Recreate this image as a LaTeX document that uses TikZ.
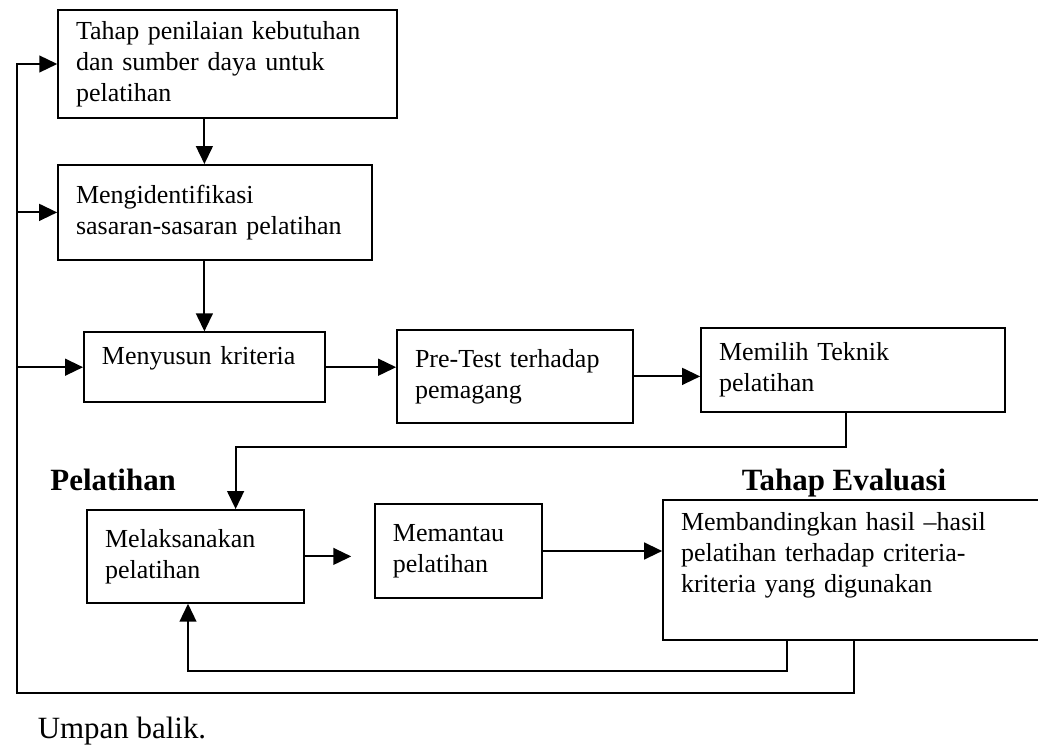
\documentclass[tikz,border=0pt]{standalone}
\usepackage{fontspec}
\setmainfont{Liberation Serif}
\usetikzlibrary{arrows.meta}

\begin{document}
\begin{tikzpicture}[
  stage/.style={draw, line width=1.2pt, align=left, inner xsep=0.45cm, inner ysep=0pt,
    font=\fontsize{18.5}{22}\selectfont},
  link/.style={line width=1.4pt},
  flow/.style={link, -{Triangle[length=0.45cm, width=0.42cm]}},
  heading/.style={anchor=base, font=\fontsize{22}{26}\selectfont\bfseries}
]
  \useasboundingbox (0,0) rectangle (25.95,-18.625);

  \node[stage, text width=7.575cm, minimum height=2.7cm] (assess) at (5.69,-1.6)
    {Tahap penilaian kebutuhan\\ dan sumber daya untuk\\ pelatihan};
  \node[stage, text width=6.95cm, minimum height=2.375cm] (goals) at (5.375,-5.31)
    {Mengidentifikasi\\ sasaran-sasaran pelatihan};
  \node[stage, text width=5.125cm, minimum height=1.75cm] (criteria) at (5.11,-9.18)
    {Menyusun kriteria\vspace{0.45cm}};
  \node[stage, text width=5cm, minimum height=2.325cm] (pretest) at (12.875,-9.41)
    {Pre-Test terhadap\\ pemagang};
  \node[stage, text width=6.7cm, minimum height=2.1cm] (method) at (21.325,-9.25)
    {Memilih Teknik\\ pelatihan};

  \node[heading] (trainlbl) at (2.83,-12.25) {Pelatihan};
  \node[heading] (evallbl) at (21.1,-12.25) {Tahap Evaluasi};

  \node[stage, text width=4.525cm, minimum height=2.325cm] (conduct) at (4.89,-13.91)
    {Melaksanakan\\ pelatihan};
  \node[stage, text width=3.275cm, minimum height=2.35cm] (monitor) at (11.46,-13.775)
    {Memantau\\ pelatihan};
  \node[stage, text width=8.65cm, minimum height=3.5cm] (compare) at (21.35,-14.25)
    {Membandingkan hasil --hasil\\ pelatihan terhadap criteria-\\ kriteria yang digunakan\vspace{0.75cm}};

  \node[anchor=base, font=\fontsize{22}{26}\selectfont] (fblbl) at (3.05,-18.45) {Umpan balik.};

  \draw[flow] (assess.south -| criteria) -- (goals.north -| criteria);
  \draw[flow] (goals.south -| criteria) -- (criteria.north);
  \draw[flow] (criteria.east) -- (criteria.east -| pretest.west);
  \draw[flow] (pretest.east) -- (pretest.east -| method.west);
  \draw[flow] ([xshift=-0.18cm]method.south) -- ++(0,-0.85) -| ([xshift=1cm]conduct.north);
  \draw[flow, shorten >=0.57cm] (conduct.east) -- (conduct.east -| monitor.west);
  \draw[flow] (monitor.east) -- (monitor.east -| compare.west);

  \draw[flow] ([xshift=-1.68cm]compare.south) -- ++(0,-0.75) -| ([xshift=-0.19cm]conduct.south);
  \coordinate (fbrail) at ([xshift=-1cm]assess.west);
  \draw[flow] (compare.south) -- ++(0,-1.3) -| (fbrail) -- (assess.west);
  \draw[flow] (fbrail |- goals.west) -- (goals.west);
  \draw[flow] (fbrail |- criteria.west) -- (criteria.west);
\end{tikzpicture}
\end{document}
